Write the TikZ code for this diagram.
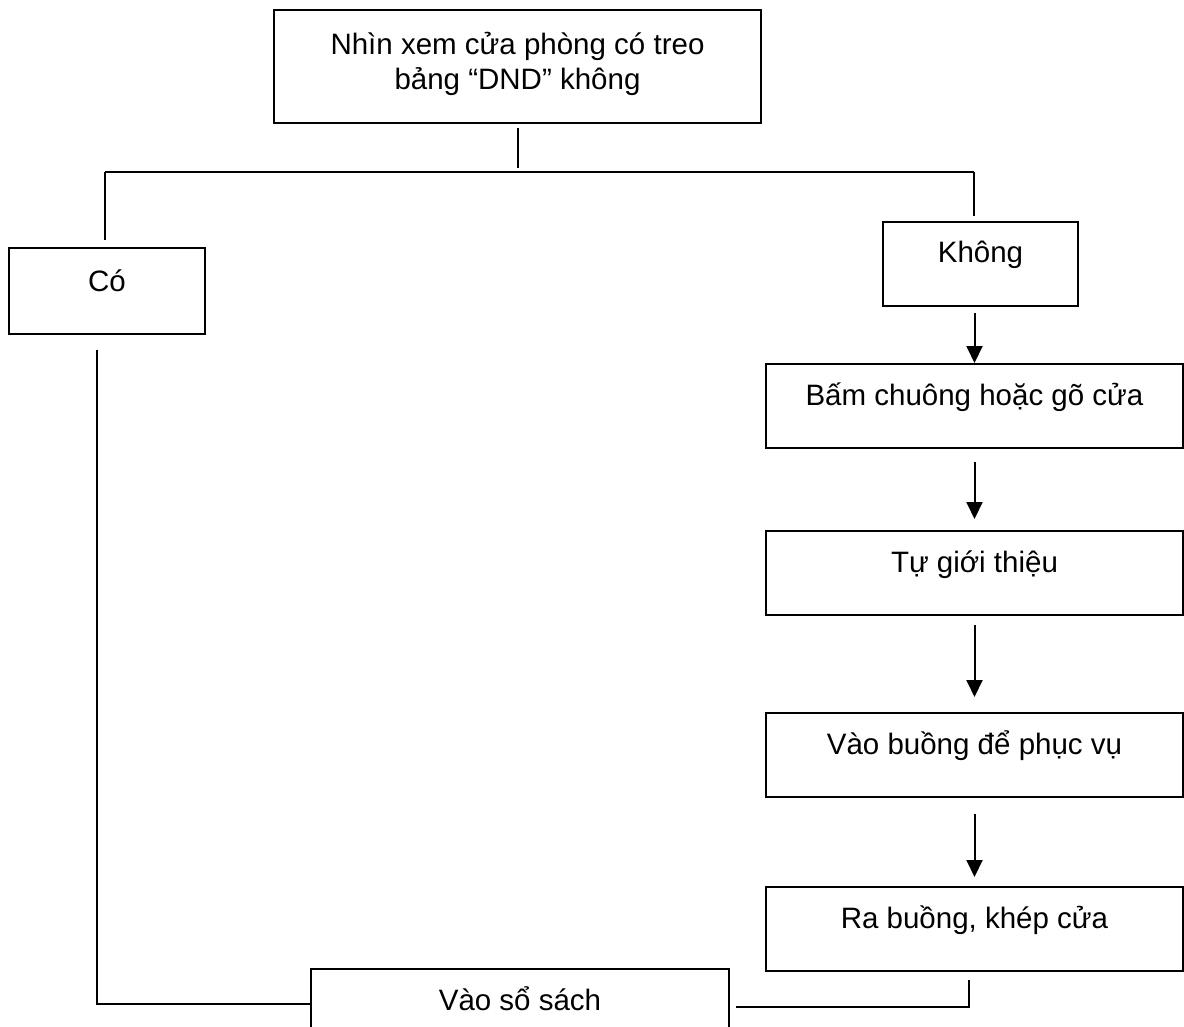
\documentclass[tikz,border=0pt]{standalone}
\usepackage{fontspec}
\setmainfont{Liberation Sans}
\usepackage{tikz}
\usetikzlibrary{shapes,arrows.meta,positioning,calc}

\begin{document}
\begin{tikzpicture}[
        x=1pt, y=-1pt,
        line width=2pt,
        box/.style={
            draw,
            inner sep=0pt,
            text height=41pt,
            text depth=43pt,
            font=\fontsize{29.5}{35}\selectfont
            },
        arr/.style={
            -{Triangle[width=16pt,length=17pt]}
            }
    ]
    \useasboundingbox (0,0) rectangle (1184,1027);

    % boxes
    \node[box, minimum width=487pt, align=center,
          text height=80pt, text depth=33pt] (top) at (517.5,66.5)
          {Nhìn xem cửa phòng có treo\\bảng “DND” không};
    \node[box, minimum width=196pt, text height=43pt, text depth=42pt] (co) at (107,291) {Có};
    \node[box, minimum width=195pt, text height=41pt, text depth=43pt] (khong) at (980.5,264) {Không};
    \node[box, minimum width=417pt] (bam) at (974.5,406) {Bấm chuông hoặc gõ cửa};
    \node[box, minimum width=417pt] (tu) at (974.5,573) {Tự giới thiệu};
    \node[box, minimum width=417pt] (vao) at (974.5,755) {Vào buồng để phục vụ};
    \node[box, minimum width=417pt] (ra) at (974.5,929) {Ra buồng, khép cửa};
    \node[box, minimum width=418pt] (so) at (520,1011) {Vào sổ sách};

    % branch lines
    \coordinate (busL) at (105,172);
    \coordinate (busR) at (974,172);
    \coordinate (joinL) at (97,1004);
    \coordinate (joinR) at (969,1007);

    \draw ([yshift=-4pt]top.south) -- ($(top.south |- busL)+(0,-4)$);
    \draw (busL) -- (busR);
    \draw (busL) -- ($(busL |- co.north)+(0,-7)$);
    \draw (busR) -- ($(busR |- khong.north)+(0,-5)$);

    % steps
    \draw[arr] ($(bam.north |- khong.south)+(0,6)$) -- (bam.north);
    \draw[arr] ([yshift=-13pt]bam.south) -- ([yshift=11pt]tu.north);
    \draw[arr] ([yshift=-9pt]tu.south) -- ([yshift=15pt]vao.north);
    \draw[arr] ([yshift=-16pt]vao.south) -- ([yshift=9pt]ra.north);

    % back to the log
    \draw ($(joinL |- co.south)+(0,15)$) -- (joinL) -- (so.west |- joinL);
    \draw ($(joinR |- ra.south)+(0,8)$) -- (joinR) -- ($(so.east |- joinR)+(6,0)$);

\end{tikzpicture}
\end{document}
